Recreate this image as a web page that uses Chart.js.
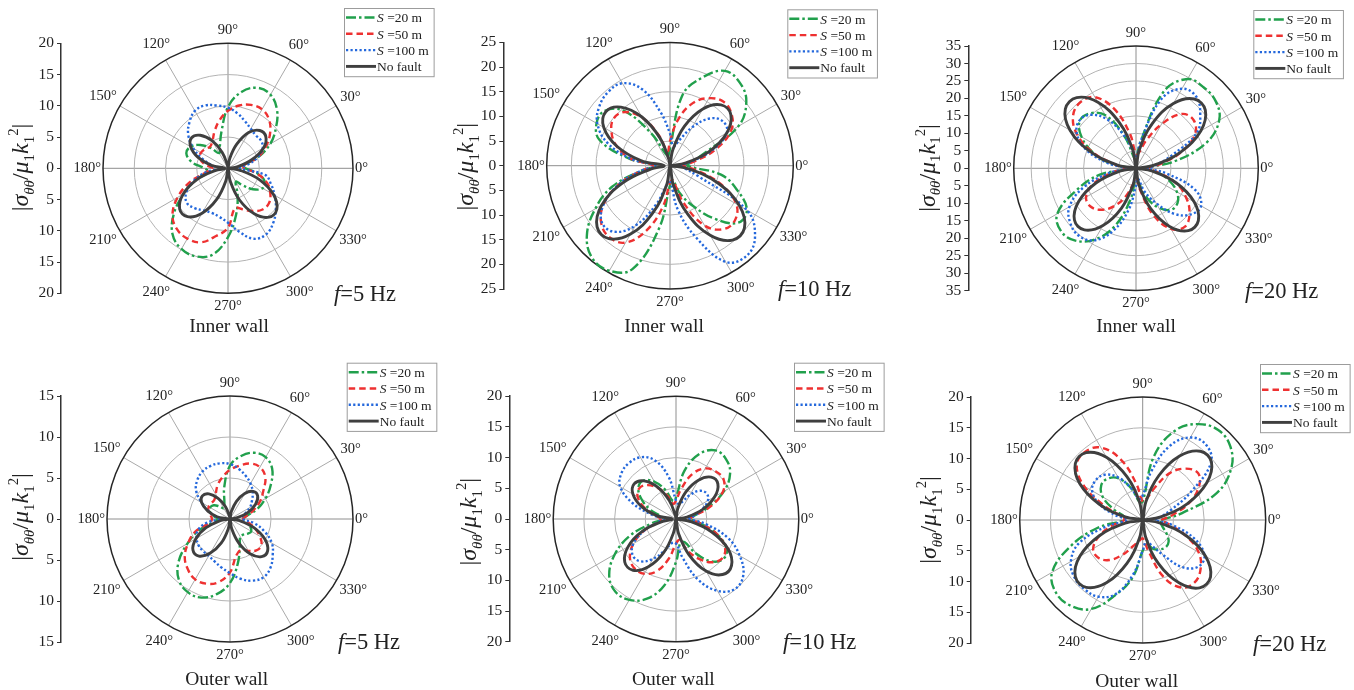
<!DOCTYPE html>
<html>
<head>
<meta charset="utf-8">
<script src="https://cdn.jsdelivr.net/npm/chart.js@4.4.1/dist/chart.umd.min.js"></script>
<style>
  body { margin: 0; background: #fff; }
  canvas { position: absolute; }
</style>
</head>
<body>
<canvas id="c1"></canvas>
<canvas id="c2"></canvas>
<canvas id="c3"></canvas>
<canvas id="c4"></canvas>
<canvas id="c5"></canvas>
<canvas id="c6"></canvas>
<script>
// polar angle of every sample, degrees
const angles = [0, 10, 20, 30, 40, 50, 60, 70, 80, 90, 100, 110, 120, 130, 140, 150, 160, 170,
  180, 190, 200, 210, 220, 230, 240, 250, 260, 270, 280, 290, 300, 310, 320, 330, 340, 350];
const angleTicks = [0, 30, 60, 90, 120, 150, 180, 210, 240, 270, 300, 330];
const seriesLabels = ['S =20 m', 'S =50 m', 'S =100 m', 'No fault'];
const radialMax = [20, 25, 35, 15, 20, 20];
const freqLabels = ['5', '10', '20', '5', '10', '20'];
const wallLabels = ['Inner wall', 'Inner wall', 'Inner wall', 'Outer wall', 'Outer wall', 'Outer wall'];

// |sigma|, one value per angle
const inner5Green = [2.8, 2.2, 5.0, 7.8, 10.0, 12.2, 13.6, 13.7, 12.4, 9.8, 6.0, 3.8, 2.8, 4.2, 5.8, 6.9, 7.1, 5.9, 3.8, 3.2, 5.5, 8.2, 11.3, 13.8, 14.9, 15.0, 14.0, 11.0, 7.5, 4.5, 2.5, 3.5, 5.2, 6.4, 6.3, 4.8];
const inner5Red = [2.5, 2.5, 5.0, 7.0, 8.8, 10.2, 10.9, 10.8, 10.2, 9.2, 7.8, 6.3, 5.0, 4.5, 4.8, 5.0, 4.8, 3.8, 2.5, 3.5, 6.5, 9.3, 11.6, 12.7, 13.0, 12.6, 11.0, 9.5, 6.5, 7.0, 7.9, 8.6, 8.6, 7.8, 6.6, 4.6];
const inner5Blue = [1.0, 3.0, 5.0, 6.4, 6.9, 6.9, 7.3, 8.0, 8.9, 9.7, 10.2, 10.7, 10.6, 9.6, 8.3, 6.4, 4.3, 2.5, 1.2, 3.5, 5.8, 7.7, 8.6, 8.3, 7.8, 7.6, 7.9, 8.7, 10.3, 12.0, 12.2, 11.3, 10.0, 8.6, 7.3, 6.0];
const inner5NoFault = [0, 1.6, 4.1, 6.6, 7.9, 7.9, 6.6, 4.1, 1.6, 0, 0.5, 2.7, 5.1, 6.9, 7.6, 6.9, 5.1, 2.7, 0.5, 2.1, 5.3, 8.3, 10.1, 10.1, 8.3, 5.3, 2.1, 0, 2.1, 5.4, 8.4, 10.2, 10.2, 8.4, 5.4, 2.1];

const inner10Green = [3.5, 4.5, 7.5, 16.0, 20.2, 22.0, 22.2, 19.0, 14.5, 3.5, 2.0, 2.5, 7.5, 14.5, 17.3, 17.2, 15.2, 8.5, 3.0, 6.0, 12.5, 17.5, 22.0, 24.5, 24.6, 22.3, 13.0, 4.0, 3.0, 6.0, 9.5, 14.0, 18.0, 18.0, 14.5, 10.5];
const inner10Red = [2.0, 5.0, 10.0, 14.3, 16.3, 16.9, 15.8, 13.5, 9.5, 5.0, 3.0, 6.5, 11.2, 14.2, 14.9, 13.7, 11.5, 8.0, 3.5, 6.0, 11.0, 15.5, 18.2, 19.0, 18.0, 14.0, 8.5, 3.5, 3.0, 8.0, 14.0, 16.8, 17.2, 15.5, 11.0, 5.5];
const inner10Blue = [2.0, 4.0, 9.0, 13.3, 14.0, 12.5, 9.0, 5.5, 4.0, 6.5, 11.0, 16.5, 19.3, 19.5, 18.7, 17.0, 13.5, 8.0, 3.0, 6.0, 11.0, 15.5, 18.0, 17.5, 14.0, 8.5, 4.0, 3.0, 9.0, 15.5, 22.5, 24.0, 22.5, 18.0, 6.0, 3.0];
const inner10NoFault = [0, 3.3, 8.5, 13.3, 16.1, 16.1, 13.3, 8.5, 3.3, 0, 1.2, 6.0, 11.4, 15.5, 17.0, 15.5, 11.4, 6.0, 1.2, 4.0, 10.2, 16.0, 19.3, 19.3, 16.0, 10.2, 4.0, 0, 4.0, 10.4, 16.3, 19.7, 19.7, 16.3, 10.4, 4.0];

const inner20Green = [2.5, 11.0, 21.5, 27.5, 29.8, 30.2, 29.5, 23.5, 8.0, 2.0, 3.0, 10.0, 17.5, 20.5, 21.0, 18.0, 13.0, 7.0, 2.0, 10.5, 18.0, 26.0, 28.0, 27.0, 23.5, 17.5, 9.0, 2.5, 4.0, 9.0, 13.0, 15.5, 15.5, 13.5, 10.0, 6.0];
const inner20Red = [3.0, 7.0, 14.0, 19.5, 21.5, 20.3, 14.5, 8.5, 4.5, 4.0, 10.0, 18.0, 23.5, 24.7, 23.5, 19.5, 13.0, 6.0, 3.0, 7.0, 13.0, 16.5, 17.0, 15.5, 12.5, 8.5, 4.5, 3.0, 6.0, 14.0, 20.0, 21.8, 20.0, 16.5, 12.0, 6.0];
const inner20Blue = [3.0, 6.0, 11.0, 20.0, 24.0, 26.8, 26.3, 21.0, 8.0, 3.0, 5.0, 10.0, 16.0, 20.0, 21.2, 19.5, 15.0, 8.0, 3.0, 8.0, 16.0, 22.0, 24.5, 25.3, 23.8, 19.0, 12.0, 5.0, 3.0, 7.0, 11.5, 17.0, 20.5, 21.5, 18.0, 9.0];
const inner20NoFault = [0, 5.3, 13.6, 21.4, 25.9, 25.9, 21.4, 13.6, 5.3, 0, 5.4, 13.9, 21.8, 26.4, 26.4, 21.8, 13.9, 5.4, 0, 4.7, 12.1, 18.9, 23.0, 23.0, 18.9, 12.1, 4.7, 0, 4.8, 12.3, 19.2, 23.3, 23.3, 19.2, 12.3, 4.8];

const outer5Green = [1.5, 2.0, 3.5, 5.0, 6.5, 8.0, 8.7, 8.6, 7.8, 6.5, 4.0, 2.0, 1.5, 2.0, 2.6, 2.8, 2.6, 2.0, 1.5, 2.0, 4.0, 6.0, 8.2, 9.7, 10.3, 10.2, 9.3, 7.8, 5.5, 3.5, 2.5, 2.5, 2.8, 3.0, 2.6, 2.0];
const outer5Red = [1.5, 2.0, 3.0, 4.2, 5.3, 6.7, 7.3, 7.2, 6.6, 6.0, 5.2, 4.4, 3.5, 3.0, 3.0, 3.0, 2.8, 2.4, 2.2, 2.5, 4.5, 5.9, 7.2, 8.0, 8.5, 8.4, 7.8, 6.5, 4.5, 4.0, 4.5, 5.0, 5.0, 4.2, 3.2, 2.2];
const outer5Blue = [1.5, 1.5, 2.0, 2.8, 3.5, 4.3, 5.0, 5.6, 6.2, 6.7, 6.9, 6.9, 6.7, 6.2, 5.4, 4.0, 2.8, 1.8, 1.2, 3.0, 4.2, 4.7, 5.0, 5.1, 5.2, 5.5, 6.0, 6.6, 7.4, 8.0, 8.2, 7.7, 6.8, 5.9, 4.5, 3.0];
const outer5NoFault = [0, 0.9, 2.3, 3.6, 4.4, 4.4, 3.6, 2.3, 0.9, 0, 0.3, 1.6, 2.9, 4.0, 4.4, 4.0, 2.9, 1.6, 0.3, 1.2, 3.1, 4.8, 5.9, 5.9, 4.8, 3.1, 1.2, 0, 1.2, 3.1, 4.9, 6.0, 6.0, 4.9, 3.1, 1.2];

const outer10Green = [2.0, 3.0, 5.5, 9.0, 11.5, 12.7, 12.9, 11.3, 8.0, 3.5, 3.0, 5.0, 7.0, 8.2, 8.0, 6.5, 4.5, 2.5, 2.0, 4.0, 8.0, 11.5, 14.2, 15.4, 15.2, 13.8, 11.0, 7.0, 4.0, 4.0, 6.5, 9.0, 10.1, 9.5, 7.0, 4.0];
const outer10Red = [2.0, 3.0, 6.0, 8.8, 10.1, 10.1, 9.5, 7.8, 5.0, 3.0, 2.5, 4.0, 5.8, 7.2, 7.8, 7.2, 5.5, 3.5, 2.5, 3.0, 5.5, 8.0, 9.8, 10.5, 10.3, 9.0, 6.5, 4.0, 3.5, 5.5, 7.5, 9.2, 9.9, 9.2, 7.0, 4.0];
const outer10Blue = [2.0, 3.0, 4.5, 6.0, 6.5, 6.0, 4.5, 3.0, 2.5, 3.0, 7.0, 10.2, 11.6, 11.9, 11.6, 10.5, 7.5, 4.0, 2.0, 3.0, 5.5, 8.0, 9.2, 9.0, 7.5, 5.5, 4.0, 4.0, 6.5, 10.5, 13.5, 14.9, 14.3, 12.0, 9.0, 5.0];
const outer10NoFault = [0, 1.8, 4.7, 7.3, 8.9, 8.9, 7.3, 4.7, 1.8, 0, 0.6, 3.2, 6.0, 8.1, 8.9, 8.1, 6.0, 3.2, 0.6, 2.2, 5.8, 9.0, 10.9, 10.9, 9.0, 5.8, 2.2, 0, 2.4, 6.2, 9.8, 11.8, 11.8, 9.8, 6.2, 2.4];

const outer20Green = [3.0, 6.5, 12.8, 16.6, 18.6, 19.1, 18.0, 15.5, 10.5, 3.0, 3.0, 5.5, 7.8, 8.8, 8.8, 7.5, 5.0, 3.0, 3.0, 7.5, 12.5, 17.0, 18.4, 18.2, 16.7, 13.0, 9.5, 5.0, 4.0, 5.0, 5.5, 5.8, 5.5, 4.5, 3.5, 3.0];
const outer20Red = [3.0, 5.0, 8.0, 10.5, 11.8, 10.9, 8.8, 5.5, 3.5, 3.0, 6.0, 10.5, 13.6, 14.5, 14.0, 11.0, 6.5, 3.5, 3.0, 5.0, 7.5, 9.3, 9.5, 8.5, 6.5, 4.5, 3.5, 3.0, 5.0, 9.8, 12.7, 13.2, 12.3, 10.5, 7.5, 4.5];
const outer20Blue = [2.0, 3.0, 5.0, 9.0, 14.5, 16.0, 15.5, 12.8, 8.0, 4.0, 3.5, 5.5, 8.0, 9.6, 10.0, 9.5, 7.5, 4.5, 2.5, 6.0, 11.0, 13.5, 14.5, 14.7, 14.4, 12.8, 9.0, 5.0, 3.5, 4.5, 6.5, 10.0, 11.8, 11.6, 9.0, 5.0];
const outer20NoFault = [0, 3.0, 7.7, 12.0, 14.6, 14.6, 12.0, 7.7, 3.0, 0, 2.9, 7.5, 11.8, 14.3, 14.3, 11.8, 7.5, 2.9, 0, 2.9, 7.5, 11.8, 14.3, 14.3, 11.8, 7.5, 2.9, 0, 2.9, 7.6, 11.8, 14.4, 14.4, 11.8, 7.6, 2.9];

const panelSeries = [
  [inner5Green, inner5Red, inner5Blue, inner5NoFault],
  [inner10Green, inner10Red, inner10Blue, inner10NoFault],
  [inner20Green, inner20Red, inner20Blue, inner20NoFault],
  [outer5Green, outer5Red, outer5Blue, outer5NoFault],
  [outer10Green, outer10Red, outer10Blue, outer10NoFault],
  [outer20Green, outer20Red, outer20Blue, outer20NoFault],
];

// line look, in legend order
const seriesStyle = [
  { color: '#21a04c', dash: [10, 3, 2.5, 3], width: 2.4 },
  { color: '#ee3131', dash: [6.5, 4], width: 2.4 },
  { color: '#2468dc', dash: [2.2, 2.3], width: 2.4 },
  { color: '#3f3f3f', dash: [], width: 2.9 },
];

// where each panel sits on the page (px)
const layout = [
  { cx: 228, cy: 168.3, r: 125, axisX: 61, titleX: 20, titleY: 167.5, legX: 344, legY: 8, fX: 334, fY: 293, wX: 229, wY: 325 },
  { cx: 670, cy: 165.7, r: 123.3, axisX: 503.3, titleX: 465, titleY: 166.7, legX: 787.3, legY: 9.3, fX: 778, fY: 288.3, wX: 664, wY: 325 },
  { cx: 1136, cy: 168.3, r: 122.3, axisX: 968.3, titleX: 926.7, titleY: 168, legX: 1253.3, legY: 10, fX: 1245, fY: 290, wX: 1136, wY: 325 },
  { cx: 230, cy: 519, r: 123, axisX: 61, titleX: 20, titleY: 517, legX: 346.7, legY: 362.7, fX: 338, fY: 641.7, wX: 226.7, wY: 678.3 },
  { cx: 676, cy: 519, r: 122.8, axisX: 509.3, titleX: 468.3, titleY: 521.7, legX: 794, legY: 362.7, fX: 783, fY: 641.7, wX: 673.3, wY: 678.3 },
  { cx: 1142.7, cy: 520, r: 123, axisX: 970.7, titleX: 928.3, titleY: 520, legX: 1260, legY: 364, fX: 1253, fY: 643.3, wX: 1136.7, wY: 680.7 },
];

const SERIF = '"Liberation Serif", "Times New Roman", serif';
const CW = 451, CH = 345;

function richText(ctx, parts, x, y, size, align) {
  const fontOf = p => (p.i ? 'italic ' : '') + ((p.sub || p.sup) ? size * 0.62 : size) + 'px ' + SERIF;
  let total = 0;
  parts.forEach(p => { ctx.font = fontOf(p); p.w = ctx.measureText(p.t).width; total += p.w; });
  let px = align === 'center' ? x - total / 2 : x;
  ctx.textAlign = 'left';
  ctx.textBaseline = 'alphabetic';
  parts.forEach(p => {
    ctx.font = fontOf(p);
    const dy = p.sub ? size * 0.24 : p.sup ? -size * 0.42 : 0;
    ctx.fillText(p.t, px, y + dy);
    px += p.w;
  });
}

const titleParts = () => [
  { t: '|' }, { t: 'σ', i: true }, { t: 'θθ', i: true, sub: true }, { t: '/' },
  { t: 'μ', i: true }, { t: '1', sub: true }, { t: 'k', i: true }, { t: '1', sub: true },
  { t: '2', sup: true }, { t: '|' },
];

const labelParts = s => s.startsWith('S ') ? [{ t: 'S', i: true }, { t: s.slice(1) }] : [{ t: s }];

const polarFrame = {
  id: 'polarFrame',
  beforeDatasetsDraw(chart, args, o) {
    const { ctx } = chart;
    const { x, y } = chart.scales;
    const cx = x.getPixelForValue(0), cy = y.getPixelForValue(0);
    const unit = x.getPixelForValue(1) - cx;
    const R = o.max * unit;
    ctx.save();
    ctx.lineWidth = 1;
    angleTicks.forEach(a => {
      const t = a * Math.PI / 180;
      ctx.strokeStyle = a % 90 === 0 ? '#8e8e8e' : '#a9a9a9';
      ctx.beginPath();
      ctx.moveTo(cx, cy);
      ctx.lineTo(cx + R * Math.cos(t), cy - R * Math.sin(t));
      ctx.stroke();
    });
    ctx.strokeStyle = '#b3b3b3';
    for (let v = o.step; v < o.max; v += o.step) {
      ctx.beginPath();
      ctx.arc(cx, cy, v * unit, 0, Math.PI * 2);
      ctx.stroke();
    }
    ctx.strokeStyle = '#262626';
    ctx.lineWidth = 1.5;
    ctx.beginPath();
    ctx.arc(cx, cy, R, 0, Math.PI * 2);
    ctx.stroke();
    ctx.restore();
  },
  afterDraw(chart, args, o) {
    const { ctx } = chart;
    const { x, y } = chart.scales;
    const cx = x.getPixelForValue(0), cy = y.getPixelForValue(0);
    const R = x.getPixelForValue(o.max) - cx;
    ctx.save();
    ctx.fillStyle = '#222';

    // angle labels
    ctx.font = '14.5px ' + SERIF;
    ctx.textAlign = 'center';
    ctx.textBaseline = 'middle';
    angleTicks.forEach(a => {
      const t = a * Math.PI / 180, txt = a + '°';
      const w = ctx.measureText(txt).width;
      const d = R + 2 + w / 2 * Math.abs(Math.cos(t)) + 11 * Math.abs(Math.sin(t));
      ctx.fillText(txt, cx + d * Math.cos(t), cy - d * Math.sin(t));
    });

    // y title, rotated
    ctx.save();
    ctx.translate(o.titleX, o.titleY);
    ctx.rotate(-Math.PI / 2);
    richText(ctx, titleParts(), 0, 24 * 0.33, 24, 'center');
    ctx.restore();

    // frequency and wall labels
    richText(ctx, [{ t: 'f', i: true }, { t: '=' + o.freq + ' Hz' }], o.fX, o.fY + 7.5, 22.5, 'left');
    richText(ctx, [{ t: o.wall }], o.wX, o.wY + 6.5, 19.5, 'center');

    // legend box
    const rowH = 16.3;
    ctx.font = '13.5px ' + SERIF;
    const textW = Math.max(...seriesLabels.map(s => ctx.measureText(s).width));
    const boxW = 34 + textW + 3, boxH = rowH * 4 + 3;
    ctx.fillStyle = '#fff';
    ctx.fillRect(o.legX, o.legY, boxW, boxH);
    ctx.strokeStyle = '#9c9c9c';
    ctx.lineWidth = 1;
    ctx.strokeRect(o.legX + 0.5, o.legY + 0.5, boxW, boxH);
    chart.data.datasets.forEach((ds, k) => {
      const yy = o.legY + 9.5 + k * rowH;
      ctx.setLineDash(ds.borderDash);
      ctx.strokeStyle = ds.borderColor;
      ctx.lineWidth = ds.borderWidth;
      ctx.beginPath();
      ctx.moveTo(o.legX + 2, yy);
      ctx.lineTo(o.legX + 32, yy);
      ctx.stroke();
      ctx.setLineDash([]);
      ctx.fillStyle = '#222';
      richText(ctx, labelParts(ds.label), o.legX + 33, yy + 4.7, 13.5, 'left');
    });
    ctx.restore();
  }
};

// polar sample -> x/y point; loop starts at the smallest radius and closes on itself
function loopPoints(values) {
  const start = values.indexOf(Math.min(...values));
  const pts = [];
  for (let k = 0; k <= values.length; k++) {
    const i = (start + k) % values.length;
    const a = angles[i] * Math.PI / 180;
    pts.push({ x: values[i] * Math.cos(a), y: values[i] * Math.sin(a) });
  }
  return pts;
}

layout.forEach((p, n) => {
  const col = n % 3, row = Math.floor(n / 3);
  const left = col * CW, top = row * CH;
  const canvas = document.getElementById('c' + (n + 1));
  canvas.width = CW + (col === 2 ? 1 : 0);
  canvas.height = CH;
  canvas.style.left = left + 'px';
  canvas.style.top = top + 'px';

  const max = radialMax[n];
  const unit = p.r / max;
  const axisLocal = p.axisX - left;
  const cxLocal = p.cx - left, cyLocal = p.cy - top;

  const datasets = panelSeries[n].map((vals, k) => ({
    label: seriesLabels[k],
    data: loopPoints(vals),
    showLine: true,
    borderColor: seriesStyle[k].color,
    borderDash: seriesStyle[k].dash,
    borderWidth: seriesStyle[k].width,
    pointRadius: 0,
    tension: 0.4,
    fill: false,
    order: 3 - k,
  }));

  new Chart(canvas, {
    type: 'scatter',
    data: { datasets },
    options: {
      responsive: false,
      animation: false,
      events: [],
      layout: { padding: { left: 0, right: 0, top: cyLocal - p.r, bottom: CH - cyLocal - p.r } },
      plugins: {
        legend: { display: false },
        tooltip: { enabled: false },
        polarFrame: {
          max, step: 5, freq: freqLabels[n], wall: wallLabels[n],
          titleX: p.titleX - left, titleY: p.titleY - top,
          legX: p.legX - left, legY: p.legY - top,
          fX: p.fX - left, fY: p.fY - top,
          wX: p.wX - left, wY: p.wY - top,
        },
      },
      scales: {
        x: {
          type: 'linear', display: false,
          min: -(cxLocal - axisLocal) / unit,
          max: (canvas.width - cxLocal) / unit,
        },
        y: {
          type: 'linear', min: -max, max: max,
          afterFit: s => { s.width = axisLocal; },
          ticks: {
            stepSize: 5, autoSkip: false, padding: 3, color: '#222',
            font: { family: SERIF, size: 15.5 },
            callback: v => Math.abs(v),
          },
          grid: { drawOnChartArea: false, tickLength: 4, color: '#333' },
          border: { color: '#333', width: 1.5 },
        },
      },
    },
    plugins: [polarFrame],
  });
});
</script>
</body>
</html>
